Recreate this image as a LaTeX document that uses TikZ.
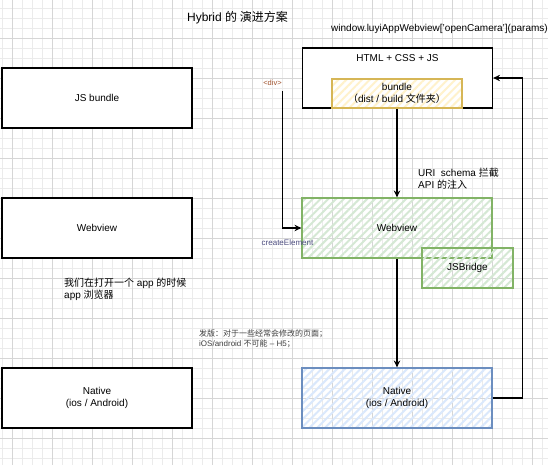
\documentclass[tikz,border=0pt]{standalone}
\usepackage{fontspec}
\setmainfont{Liberation Sans}
\newfontfamily\cjk{Noto Sans CJK SC}
\usetikzlibrary{arrows.meta,patterns.meta,positioning}

\definecolor{yelfill}{HTML}{FFF2CC}
\definecolor{yelline}{HTML}{D6B656}
\definecolor{grnfill}{HTML}{D5E8D4}
\definecolor{grnline}{HTML}{82B366}
\definecolor{blufill}{HTML}{DAE8FC}
\definecolor{bluline}{HTML}{6C8EBF}
\definecolor{divred}{HTML}{A0522D}
\definecolor{elemblue}{HTML}{4D4D80}

\begin{document}
\begin{tikzpicture}[
        x=1pt, y=-1pt,
        every node/.style={inner sep=1pt, font=\fontsize{10}{12}\selectfont},
        box/.style={draw, line width=1.2pt, align=center, minimum width=190pt, minimum height=60pt},
        hatch/.style={pattern={Lines[angle=45,distance=5.5pt,line width=2pt]}, pattern color=#1},
        arr/.style={line width=1.2pt, -{Stealth[open,length=7pt,width=6.5pt,inset=2.5pt]}},
        small/.style={font=\fontsize{8}{10.5}\selectfont}
    ]

    % Background and grid
    \fill[white] (0,0) rectangle (548,465);
    \useasboundingbox (0,0) rectangle (548,465);
    \begin{scope}[shift={(2,8)}]
      \draw[black!8, line width=0.5pt, step=10pt] (-10,-10) grid (550,460);
    \end{scope}
    \begin{scope}[shift={(12,38)}]
      \draw[black!16, line width=0.7pt, step=40pt] (-40,-40) grid (560,440);
    \end{scope}

    % Nodes
    \node (title) at (237.5,18) {\fontsize{12}{14}\selectfont Hybrid {\cjk 的 演进方案}};
    \node[anchor=west] (call) at (330,29) {window.luyiAppWebview['openCamera'](params)};

    \node[box, fill=white] (jsL) at (97,98) {JS bundle};
    \node[box, fill=white] (webL) at (97,228) {Webview};
    \node[box, fill=white] (natL) at (97,398) {Native\\(ios / Android)};

    \node[box, fill=white, label={[anchor=north, yshift=-6pt]north:HTML + CSS + JS}] (html) at (397.5,78) {};
    \node[draw=yelline, line width=1.2pt, hatch=yelfill, align=center,
          minimum width=130pt, minimum height=29pt] (bundle) at (397,93.5)
          {bundle\\{\cjk （}dist / build {\cjk 文件夹）}};
    \node[box, draw=grnline, hatch=grnfill] (webR) at (397,228) {Webview};
    \node[draw=grnline, line width=1.2pt, hatch=grnfill,
          minimum width=91pt, minimum height=40pt] (jsb) at (467.5,268) {JSBridge};
    \node[box, draw=bluline, hatch=blufill] (natR) at (397,398) {Native\\(ios / Android)};

    \node[text=divred, font=\fontsize{7.5}{9}\selectfont] (div) at (272.5,83) {<div>};
    \node[text=elemblue, small] (elem) at (287.5,243) {createElement};
    \node[anchor=west, align=left] (uri) at (417,179) {URI\ \ schema {\cjk 拦截}\\API {\cjk 的注入}};
    \node[anchor=west, align=left] (open) at (63,289) {{\cjk 我们在打开一个} app {\cjk 的时候}\\app {\cjk 浏览器}};
    \node[anchor=west, align=left, small, text=black!75] (release) at (198,339)
          {{\cjk 发版：对于一些经常会修改的页面；}\\iOS/android {\cjk 不可能} -- H5{\cjk ；}};

    % Edges
    \draw[arr] (bundle.south) -- (webR.north);
    \draw[arr] (webR.south) -- (natR.north);
    \draw[arr] ([yshift=-4pt]div.south east) |- (webR.west);
    \draw[arr] (natR.east) -- ++(30,0) |- (html.east);

\end{tikzpicture}
\end{document}
